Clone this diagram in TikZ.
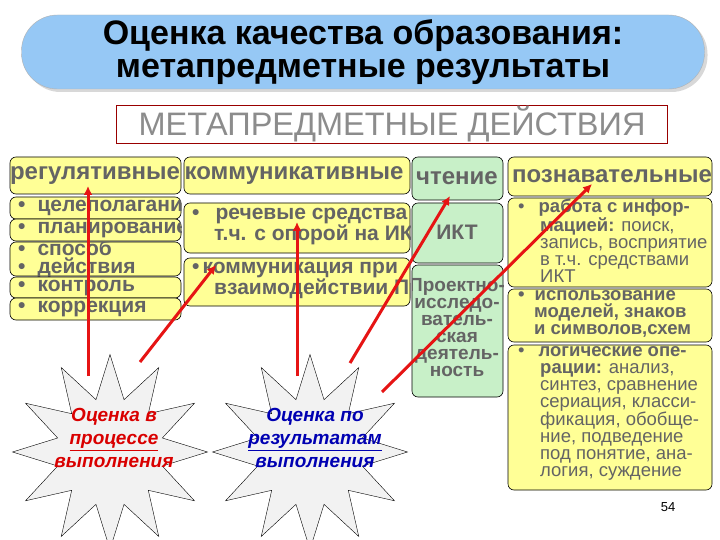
\documentclass[tikz,border=0pt]{standalone}
\usepackage{fontspec}
\setmainfont{Liberation Sans}
\usetikzlibrary{shapes.geometric,shadows,arrows.meta}
\definecolor{ttl}{RGB}{150,200,245}
\definecolor{yel}{RGB}{255,255,150}
\definecolor{grn}{RGB}{200,240,200}
\definecolor{ytx}{RGB}{100,100,100}
\definecolor{rarr}{RGB}{230,20,20}
\begin{document}
\begin{tikzpicture}[x=1pt,y=-1pt,
  ybox/.style={draw=black,fill=yel,rounded corners=6pt,line width=0.6pt},
  gbox/.style={draw=black,fill=grn,rounded corners=6pt,line width=0.6pt},
  txt/.style={text=ytx,font=\bfseries,inner sep=0pt},
  arr/.style={draw=rarr,line width=3pt,-{Latex[length=9pt,width=9pt]}},
  starb/.style={star,star points=12,star point ratio=1.8,draw=black,fill=gray!10,minimum size=195pt,inner sep=0pt}]
\useasboundingbox (0,0) rectangle (720,540);
\fill[white] (0,0) rectangle (720,540);
% title
\node[draw=gray!60,fill=ttl,rounded corners=36pt,minimum width=683pt,minimum height=74pt,
  drop shadow={shadow xshift=3pt,shadow yshift=-3pt,fill=gray!60},align=center,
  font=\bfseries\fontsize{34}{33}\selectfont,inner sep=0pt] (title) at (363,52)
  {Оценка качества образования:\\метапредметные результаты};
\node[draw=red!60!black,fill=white,minimum width=551pt,minimum height=38pt,inner sep=0pt,
  font=\fontsize{32.5}{32}\selectfont,text=gray!90] (meta) at (392,124) {МЕТАПРЕДМЕТНЫЕ ДЕЙСТВИЯ};
% generic clipped box macro
\newcommand\cbox[7]{%
  \path[#1] (#3,#4) rectangle (#5,#6);
  \begin{scope}\clip[rounded corners=6pt] (#3,#4) rectangle (#5,#6);
  #7
  \end{scope}}
% headers
\tikzset{hd/.style={txt,font=\bfseries\fontsize{24}{24}\selectfont}}
\cbox{ybox}{h1}{10}{157}{181}{194}{\node[hd] (h1) at (95,176) {регулятивные};}
\cbox{ybox}{h2}{184}{157}{410}{194}{\node[hd] (h2) at (294,176) {коммуникативные};}
\cbox{gbox}{h3}{412}{157}{503}{200}{\node[hd] (h3) at (457,178) {чтение};}
\cbox{ybox}{h4}{508}{157}{712}{196}{\node[hd] (h4) at (612,176) {познавательные};}
% left items
\tikzset{li/.style={txt,font=\bfseries\fontsize{21}{18}\selectfont,anchor=west,align=left}}
\cbox{ybox}{}{10}{197}{181}{219}{\node[li] (l1) at (18,208) {•\hspace{12pt}целеполагание};}
\cbox{ybox}{}{10}{219}{181}{241}{\node[li] (l2) at (18,230) {•\hspace{12pt}планирование};}
\cbox{ybox}{}{10}{242}{181}{276}{\node[li] (l3) at (18,259) {•\hspace{12pt}способ\\•\hspace{12pt}действия};}
\cbox{ybox}{}{10}{277}{181}{298}{\node[li] (l4) at (18,288) {•\hspace{12pt}контроль};}
\cbox{ybox}{}{10}{298}{181}{320}{\node[li] (l5) at (18,309) {•\hspace{12pt}коррекция};}
% middle items
\cbox{ybox}{}{184}{203}{410}{253}{\node[li] (m1) at (192,227) {•\hspace{16pt}речевые средства в\\\hspace{22pt}т.ч. с опорой на ИКТ};}
\cbox{ybox}{}{184}{258}{410}{306}{\node[li] (m2) at (192,281) {•\hspace{3pt}коммуникация при\\\hspace{22pt}взаимодействии Проектно};}
% green
\cbox{gbox}{}{412}{203}{503}{263}{\node[txt,font=\bfseries\fontsize{21}{21}\selectfont] (g1) at (457,232) {ИКТ};}
\cbox{gbox}{}{412}{265}{503}{397}{\node[txt,font=\bfseries\fontsize{19}{17}\selectfont,align=center] (g2) at (457,328) {Проектно-\\исследо-\\ватель-\\ская\\деятель-\\ность};}
% right
\tikzset{ri/.style={txt,font=\fontsize{18.5}{17}\selectfont,anchor=north west,align=left}}
\cbox{ybox}{}{508}{198}{712}{287}{\node[ri] (r1) at (518,199) {•\hspace{14pt}\textbf{работа с инфор-}\\\hspace{22pt}\textbf{мацией:} поиск,\\\hspace{22pt}запись, восприятие\\\hspace{22pt}в т.ч. средствами\\\hspace{22pt}ИКТ};}
\cbox{ybox}{}{508}{289}{712}{342}{\node[ri,font=\bfseries\fontsize{18.5}{17}\selectfont] (r2) at (518,290) {•\hspace{10pt}использование\\\hspace{16pt}моделей, знаков\\\hspace{16pt}и символов,схем};}
\cbox{ybox}{}{508}{345}{712}{490}{\node[ri] (r3) at (518,346) {•\hspace{14pt}\textbf{логические опе-}\\\hspace{22pt}\textbf{рации:} анализ,\\\hspace{22pt}синтез, сравнение\\\hspace{22pt}сериация, класси-\\\hspace{22pt}фикация, обобще-\\\hspace{22pt}ние, подведение\\\hspace{22pt}под понятие, ана-\\\hspace{22pt}логия, суждение};}
\node[font=\fontsize{13}{13}\selectfont] (pg) at (668,507) {54};
% stars
\node[starb] (s1) at (110,452) {};
\node[txt,font=\bfseries\itshape\fontsize{19}{23}\selectfont,text=red!85!black,align=center] (s1t) at (114,438) {Оценка в\\\underline{процессе}\\выполнения};
\node[starb] (s2) at (310,452) {};
\node[txt,font=\bfseries\itshape\fontsize{19}{23}\selectfont,text=blue!70!black,align=center] (s2t) at (315,438) {Оценка по\\\underline{результатам}\\выполнения};
\coordinate (a1s) at (88,376); \coordinate (a1e) at (88,186);
\coordinate (a2s) at (140,362); \coordinate (a2e) at (216,265);
\coordinate (a3s) at (297,376); \coordinate (a3e) at (297,222);
\coordinate (a4s) at (350,363); \coordinate (a4e) at (450,196);
\coordinate (a5s) at (382,392); \coordinate (a5e) at (592,184);
\foreach \i in {1,...,5} \draw[arr] (a\i s) -- (a\i e);
\end{tikzpicture}
\end{document}
